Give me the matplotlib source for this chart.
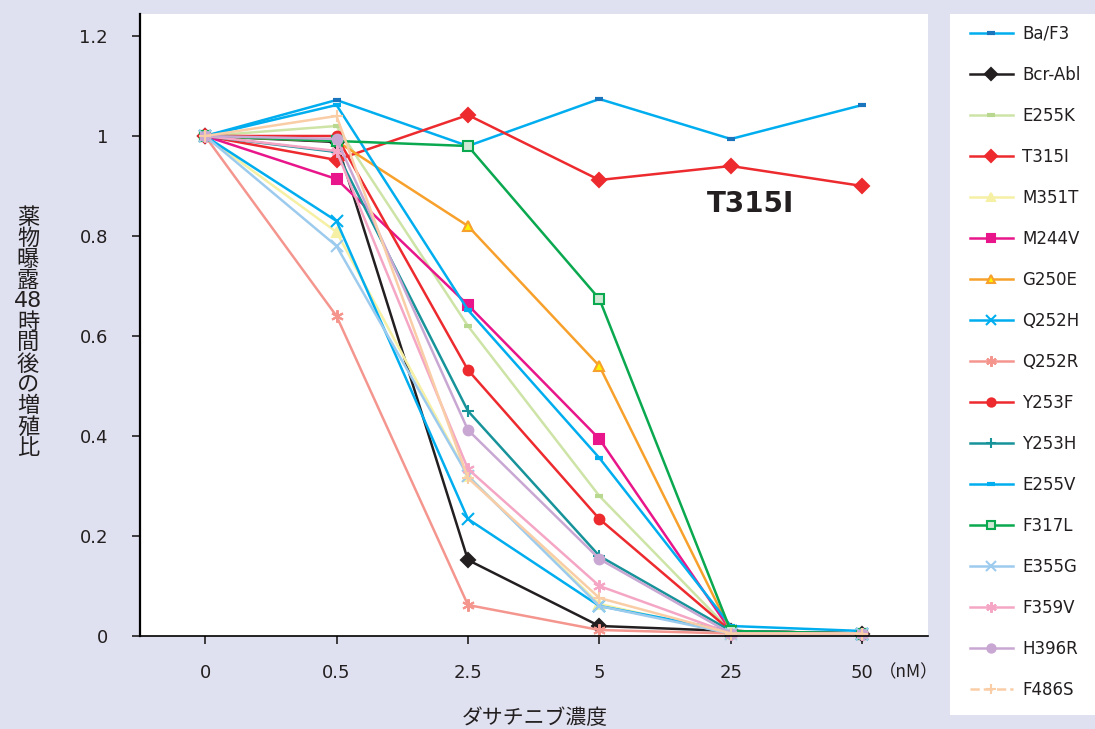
import numpy as np
import matplotlib
matplotlib.use('Agg')
import matplotlib.pyplot as plt
from matplotlib.lines import Line2D

plt.rcParams['font.family'] = ['DejaVu Sans', 'Noto Sans CJK JP']

# データ
conc_labels = ['0', '0.5', '2.5', '5', '25', '50']

ba_f3   = [1.00, 1.072, 0.980, 1.074, 0.994, 1.062]
bcr_abl = [1.00, 0.988, 0.152, 0.020, 0.010, 0.005]
e255k   = [1.00, 1.020, 0.620, 0.280, 0.010, 0.005]
t315i   = [1.00, 0.952, 1.042, 0.912, 0.940, 0.900]
m351t   = [1.00, 0.808, 0.320, 0.064, 0.005, 0.005]
m244v   = [1.00, 0.914, 0.662, 0.394, 0.010, 0.005]
g250e   = [1.00, 0.990, 0.820, 0.540, 0.010, 0.005]
q252h   = [1.00, 0.830, 0.234, 0.060, 0.010, 0.005]
q252r   = [1.00, 0.640, 0.062, 0.012, 0.005, 0.005]
y253f   = [1.00, 1.000, 0.532, 0.234, 0.010, 0.005]
y253h   = [1.00, 0.968, 0.450, 0.160, 0.010, 0.005]
e255v   = [1.00, 1.062, 0.652, 0.356, 0.020, 0.010]
f317l   = [1.00, 0.990, 0.980, 0.674, 0.010, 0.005]
e355g   = [1.00, 0.780, 0.320, 0.060, 0.005, 0.005]
f359v   = [1.00, 0.970, 0.334, 0.100, 0.005, 0.005]
h396r   = [1.00, 0.994, 0.412, 0.154, 0.005, 0.005]
f486s   = [1.00, 1.040, 0.316, 0.076, 0.005, 0.005]

asterisk = (6, 2, 0)

# (ラベル, 値, 色, マーカー, マーカー塗り, 凡例の線種)
series = [
    ('Ba/F3',   ba_f3,   '#00aeef', '_', '#1a75bc', '-'),
    ('Bcr-Abl', bcr_abl, '#231f20', 'D', '#231f20', '-'),
    ('E255K',   e255k,   '#cde4a6', '_', '#b8d890', '-'),
    ('T315I',   t315i,   '#ed2a2e', 'D', '#ed2a2e', '-'),
    ('M351T',   m351t,   '#f6f0a4', '^', '#f6f0a4', '-'),
    ('M244V',   m244v,   '#e8168a', 's', '#e8168a', '-'),
    ('G250E',   g250e,   '#f7a12c', '^', '#fff200', '-'),
    ('Q252H',   q252h,   '#00aeef', 'x', '#00aeef', '-'),
    ('Q252R',   q252r,   '#f4958e', asterisk, '#f4958e', '-'),
    ('Y253F',   y253f,   '#ed2a2e', 'o', '#ed2a2e', '-'),
    ('Y253H',   y253h,   '#17939a', '+', '#17939a', '-'),
    ('E255V',   e255v,   '#00aeef', '_', '#00aeef', '-'),
    ('F317L',   f317l,   '#0aa84f', 's', '#cfe8d4', '-'),
    ('E355G',   e355g,   '#9dcbee', 'x', '#9dcbee', '-'),
    ('F359V',   f359v,   '#f4a6c4', asterisk, '#f4a6c4', '-'),
    ('H396R',   h396r,   '#c9a7d3', 'o', '#c9a7d3', '-'),
    ('F486S',   f486s,   '#f9cda6', '+', '#f9cda6', '--'),
]

BG = '#e0e1f0'
TXT = '#231f20'
fig = plt.figure(figsize=(10.95, 7.29), dpi=100, facecolor=BG)
ax = fig.add_axes([140/1095, 93/729, 788/1095, 622/729])
ax.set_facecolor('white')

x = np.arange(len(conc_labels))
handles = []
for label, vals, col, mk, mfc, ls in series:
    ms = 7
    if mk in ('x', '+', asterisk):
        ms = 9
    if mk == '_':
        ms = 6
    mec = mfc if mk == '_' else col
    mew = 3 if mk == '_' else 1.5
    ax.plot(x, vals, color=col, lw=1.8, marker=mk, ms=ms, mfc=mfc,
            mec=mec, mew=mew, clip_on=False)
    handles.append(Line2D([0], [0], color=col, lw=1.8, ls=ls, marker=mk,
                          ms=ms * 0.85, mfc=mfc, mec=mec, mew=mew))

ax.set_xlim(-0.495, 5.5)
ax.set_ylim(0, 1.244)
ax.set_xticks(x)
ax.set_xticklabels(conc_labels)
ax.set_yticks([0, 0.2, 0.4, 0.6, 0.8, 1.0, 1.2])
ax.set_yticklabels(['0', '0.2', '0.4', '0.6', '0.8', '1', '1.2'])
ax.tick_params(axis='both', direction='out', length=6, width=1.2,
               labelsize=13, colors=TXT)
ax.tick_params(axis='y', pad=17)
ax.tick_params(axis='x', pad=14)
for s in ['top', 'right']:
    ax.spines[s].set_visible(False)
ax.spines['left'].set_linewidth(1.6)
ax.spines['bottom'].set_linewidth(1.2)

ax.text(5.13, -0.072, '（nM）', fontsize=12.5, ha='left', va='center',
        color=TXT, family=['Noto Sans CJK JP'])
ax.text(4.15, 0.865, 'T315I', fontsize=20, fontweight='bold',
        ha='center', va='center', color=TXT)

fig.text(535/1095, 1 - 718/729, 'ダサチニブ濃度', fontsize=15,
         ha='center', va='center', color=TXT, family=['Noto Sans CJK JP'])
fig.text(28/1095, 1 - 333/729,
         '薬\n物\n曝\n露\n48\n時\n間\n後\nの\n増\n殖\n比',
         fontsize=16, ha='center', va='center', linespacing=1.04,
         color=TXT)

# 凡例
lax = fig.add_axes([950/1095, 14/729, 145/1095, 701/729])
lax.set_facecolor('white')
lax.set_xticks([]); lax.set_yticks([])
for s in lax.spines.values():
    s.set_visible(False)
lax.legend(handles, [s[0] for s in series], loc='upper left',
           bbox_to_anchor=(0.06, 1.0), frameon=False, fontsize=12,
           labelspacing=1.38, handlelength=2.6, handletextpad=0.55,
           borderaxespad=0.25, labelcolor=TXT)

fig.savefig('out.png', dpi=100, facecolor=BG)
